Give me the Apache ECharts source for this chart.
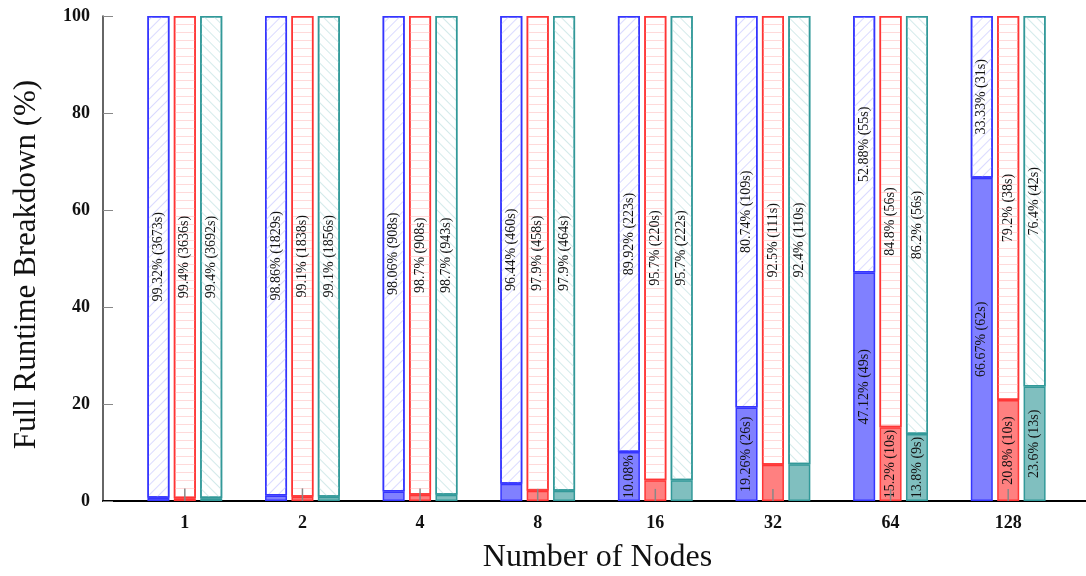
<!DOCTYPE html>
<html>
<head>
<meta charset="utf-8">
<script src="https://cdn.jsdelivr.net/npm/echarts@6/dist/echarts.min.js"></script>
<style>html,body{margin:0;padding:0;background:#fff}#c{width:1086px;height:576px}</style>
</head>
<body>
<div id="c"></div>
<script>
const categories = ['1','2','4','8','16','32','64','128'];
const yTicks = [0,20,40,60,80,100];

const blueSolid = [0.68,1.14,1.94,3.56,10.08,19.26,47.12,66.67];
const blueRest  = [99.32,98.86,98.06,96.44,89.92,80.74,52.88,33.33];
const blueRestSec = [3673,1829,908,460,223,109,55,31];
const blueSolidLabel = ['','','','','10.08%','19.26% (26s)','47.12% (49s)','66.67% (62s)'];

const redSolid = [0.6,0.9,1.3,2.1,4.3,7.5,15.2,20.8];
const redRest  = [99.4,99.1,98.7,97.9,95.7,92.5,84.8,79.2];
const redRestSec = [3636,1838,908,458,220,111,56,38];
const redSolidLabel = ['','','','','','','15.2% (10s)','20.8% (10s)'];

const tealSolid = [0.6,0.9,1.3,2.1,4.3,7.6,13.8,23.6];
const tealRest  = [99.4,99.1,98.7,97.9,95.7,92.4,86.2,76.4];
const tealRestSec = [3692,1856,943,464,222,110,56,42];
const tealSolidLabel = ['','','','','','','13.8% (9s)','23.6% (13s)'];

const redErrLow  = [0,0,0,0,0,0,0,0];
const redErrHigh = [2.6,2.6,2.6,2.5,2.5,2.5,2.5,2.5];

const FONT = "'Liberation Serif', 'DejaVu Serif', serif";

function topLabels(rest, sec){ return rest.map((v,i)=> v + '% (' + sec[i] + 's)'); }

const colors = {
  blue: {border:'#3535ff', fill:'#8080ff', hatch:'#dadaff'},
  red:  {border:'#ff3535', fill:'#ff8080', hatch:'#ffdada'},
  teal: {border:'#329999', fill:'#80bfbf', hatch:'#d3eaea'}
};

function labelCfg(texts){
  return {
    show: true, position: 'inside', rotate: 90,
    fontFamily: FONT, fontSize: 14, color: '#111',
    formatter: p => texts[p.dataIndex]
  };
}

function solidSeries(name, data, c, stack, texts){
  return {
    name, type:'bar', xAxisIndex:1, yAxisIndex:1, stack, data,
    barWidth: 22, barGap: '20%',
    itemStyle: {color: c.fill, borderColor: c.border, borderWidth: 1.5},
    label: labelCfg(texts), z: 3
  };
}
function hatchSeries(name, data, c, stack, texts, decal){
  return {
    name, type:'bar', xAxisIndex:1, yAxisIndex:1, stack, data,
    barWidth: 22, barGap: '20%',
    itemStyle: {color: '#ffffff', borderColor: c.border, borderWidth: 1.5,
      decal: Object.assign({color: c.hatch, backgroundColor: 'rgba(0,0,0,0)', symbol:'rect', symbolSize:1}, decal)},
    label: labelCfg(texts), z: 3
  };
}

const chart = echarts.init(document.getElementById('c'), null, {renderer:'canvas'});
chart.setOption({
  animation: false,
  backgroundColor: '#fff',
  grid: [
    {left:103, right:0, top:16, bottom:75, containLabel:false, outerBoundsMode:'none'},
    {left:126, right:19, top:16, bottom:75, containLabel:false, outerBoundsMode:'none'}
  ],
  xAxis: [
    {gridIndex:0, type:'value', min:0, max:1, axisLine:{show:true, lineStyle:{color:'#000', width:2}},
     axisTick:{show:false}, axisLabel:{show:false}, splitLine:{show:false},
     name:'Number of Nodes', nameLocation:'middle', nameGap:41,
     nameTextStyle:{fontFamily:FONT, fontSize:32, color:'#111', padding:[0,0,0,6]}},
    {gridIndex:1, type:'category', data:categories, axisLine:{show:false}, axisTick:{show:false},
     axisLabel:{fontFamily:FONT, fontSize:18, fontWeight:'bold', color:'#111', margin:13}}
  ],
  yAxis: [
    {gridIndex:0, type:'value', min:0, max:100, interval:20,
     axisLine:{show:true, lineStyle:{color:'#333', width:1.5}},
     axisTick:{show:true, inside:true, length:10, lineStyle:{color:'#888'}},
     axisLabel:{fontFamily:FONT, fontSize:18, fontWeight:'bold', color:'#111', margin:13,
       formatter: v => yTicks.includes(v) ? String(v) : ''},
     splitLine:{show:false},
     name:'Full Runtime Breakdown (%)', nameLocation:'middle', nameGap:61,
     nameTextStyle:{fontFamily:FONT, fontSize:31, color:'#111', padding:[0,12,0,0]}},
    {gridIndex:1, type:'value', min:0, max:100, show:false, splitLine:{show:false}}
  ],
  series: [
    solidSeries('blueSolid', blueSolid, colors.blue, 'b', blueSolidLabel),
    hatchSeries('blueRest', blueRest, colors.blue, 'b', topLabels(blueRest, blueRestSec),
      {dashArrayX:[1,0], dashArrayY:[1,6], rotation: -Math.PI/4}),
    solidSeries('redSolid', redSolid, colors.red, 'r', redSolidLabel),
    hatchSeries('redRest', redRest, colors.red, 'r', topLabels(redRest, redRestSec),
      {dashArrayX:[1,0], dashArrayY:[1,7], rotation: 0}),
    solidSeries('tealSolid', tealSolid, colors.teal, 't', tealSolidLabel),
    hatchSeries('tealRest', tealRest, colors.teal, 't', topLabels(tealRest, tealRestSec),
      {dashArrayX:[1,0], dashArrayY:[1,6], rotation: Math.PI/4}),
    {
      type:'custom', xAxisIndex:1, yAxisIndex:1, z: 4,
      data: categories.map((c,i)=>[i, redErrLow[i], redErrHigh[i]]),
      renderItem: function(params, api){
        const a = api.coord([api.value(0), api.value(1)]);
        const b = api.coord([api.value(0), api.value(2)]);
        return {type:'line', shape:{x1:a[0], y1:a[1], x2:b[0], y2:b[1]},
                style:{stroke:'#888', lineWidth:1.5}};
      }
    }
  ]
});
</script>
</body>
</html>
